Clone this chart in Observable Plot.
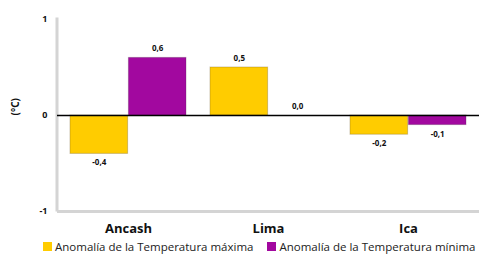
<!DOCTYPE html>
<html><head><meta charset="utf-8">
<script src="https://cdn.jsdelivr.net/npm/d3@7"></script>
<script src="https://cdn.jsdelivr.net/npm/@observablehq/plot@0.6"></script>
<style>
body{margin:0;background:#fff;font-family:"Liberation Sans",Arial,sans-serif;}
svg{overflow:visible;}
#legend{display:flex;height:17px;align-items:center;font-family:"Open Sans",sans-serif;font-size:11.5px;color:#222;white-space:nowrap;padding-left:43px;}
#legend span.sw{display:inline-block;width:9px;height:9px;margin-right:3px;}
#legend .it{display:flex;align-items:center;}
</style></head>
<body><div id="chart"></div><div id="legend"></div>
<script>
const categories = ["Ancash", "Lima", "Ica"];
const tmax = [-0.4, 0.5, -0.2];
const tmin = [0.6, 0.0, -0.1];
const seriesNames = ["Anomalía de la Temperatura máxima", "Anomalía de la Temperatura mínima"];
const colors = ["#FFCC00", "#A2089F"];
const yTicks = [-1, 0, 1];
const yLabel = "(°C)";

const maxData = categories.map((c, i) => ({cat: c, v: tmax[i]}));
const minData = categories.map((c, i) => ({cat: c, v: tmin[i]}));
const fmt = v => v.toFixed(1).replace(".", ",");
const half = 58.4;
const plotW = 479 - 57;

function labels(data, dx) {
  return [
    Plot.text(data.filter(d => d.v >= 0), {x: "cat", y: "v", text: d => fmt(d.v), dx, dy: -9, fontSize: 8, fontWeight: "bold", fill: "#111"}),
    Plot.text(data.filter(d => d.v < 0), {x: "cat", y: "v", text: d => fmt(d.v), dx, dy: 9, fontSize: 8, fontWeight: "bold", fill: "#111"})
  ];
}

const plot = Plot.plot({
  width: 479, height: 238,
  marginLeft: 57, marginRight: 0, marginTop: 19, marginBottom: 27,
  x: {domain: categories, paddingInner: 0.17, paddingOuter: 0.085, label: null, axis: null},
  y: {domain: [-1, 1], label: null, axis: null},
  marks: [
    Plot.frame({fill: "#d4d4d4", stroke: "none", insetLeft: -2, insetRight: plotW - 1, insetTop: -2}),
    Plot.ruleY([-1], {stroke: "#d4d4d4", strokeWidth: 3}),
    Plot.barY(maxData, {x: "cat", y: "v", fill: colors[0], insetRight: half, stroke: "rgba(120,100,40,0.35)", strokeWidth: 1}),
    Plot.barY(minData, {x: "cat", y: "v", fill: colors[1], insetLeft: half, stroke: "rgba(80,40,80,0.3)", strokeWidth: 1}),
    Plot.ruleY([0], {stroke: "#000", strokeWidth: 1.5}),
    ...labels(maxData, -half / 2),
    ...labels(minData, half / 2),
    Plot.axisY({ticks: yTicks, tickSize: 0, tickPadding: 10, tickFormat: d => String(d), fill: "#111", fontSize: 9, fontWeight: "bold", label: null}),
    Plot.axisX({tickSize: 0, tickPadding: 12, fontSize: 13, fontWeight: "bold", fill: "#111", label: null, fontFamily: "Open Sans"}),
    Plot.text([yLabel], {frameAnchor: "left", rotate: -90, dx: -42, fontSize: 10, fontWeight: "bold", fill: "#111"})
  ]
});
document.getElementById("chart").appendChild(plot);

const lg = document.getElementById("legend");
seriesNames.forEach((n, i) => {
  const it = document.createElement("div");
  it.className = "it";
  if (i > 0) it.style.marginLeft = "14px";
  it.innerHTML = `<span class="sw" style="background:${colors[i]}"></span><span>${n}</span>`;
  lg.appendChild(it);
});
</script>
</body></html>
